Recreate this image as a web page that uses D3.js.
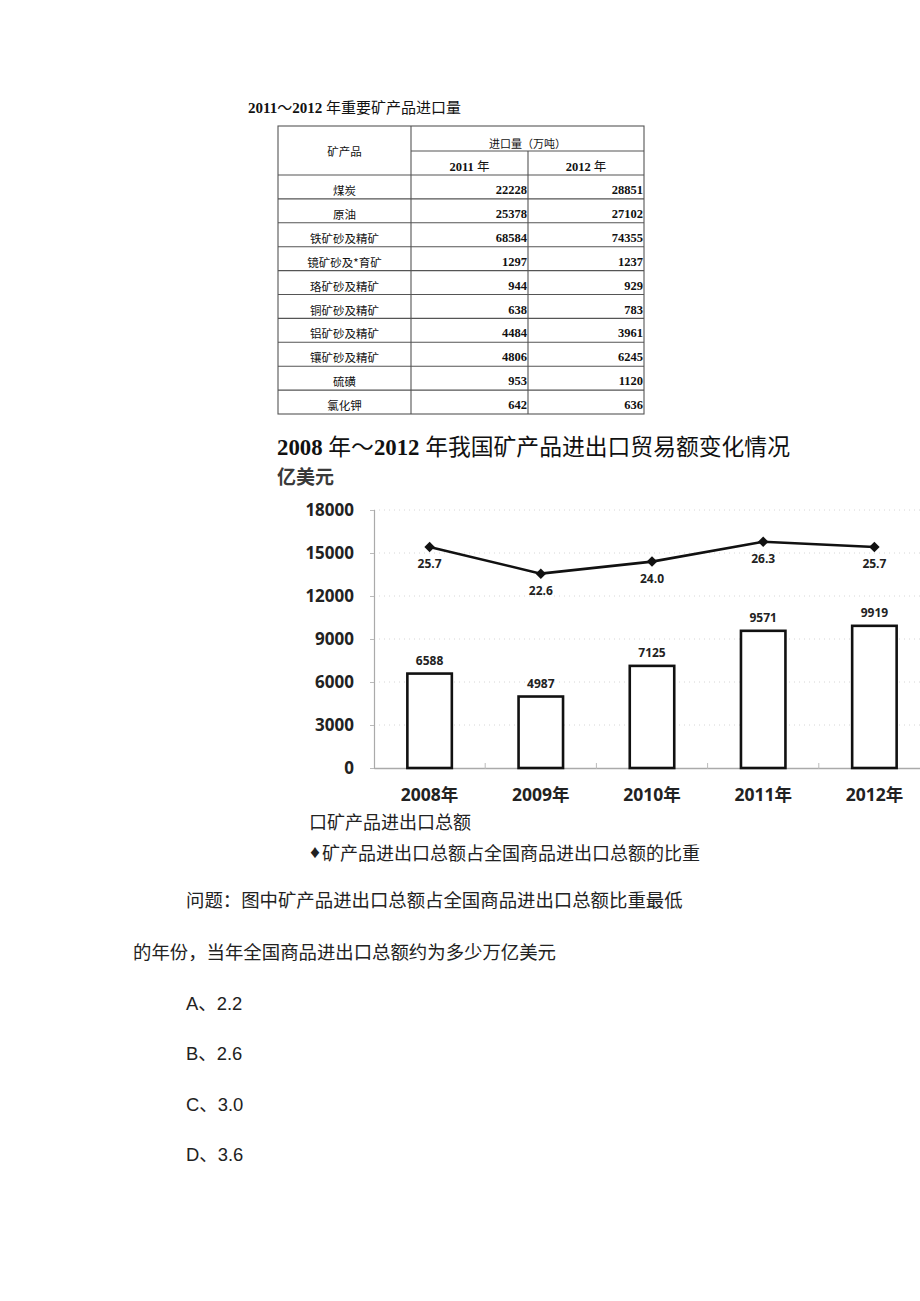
<!DOCTYPE html>
<html><head><meta charset="utf-8">
<script src="https://cdn.jsdelivr.net/npm/d3@7"></script>
<style>
html,body{margin:0;padding:0;background:#fff;}
svg{display:block;}
</style></head>
<body>
<script>
// ---------- data ----------
const tableTitle = "2011～2012 年重要矿产品进口量";
const minerals = ["煤炭","原油","铁矿砂及精矿","镜矿砂及*育矿","珞矿砂及精矿","铜矿砂及精矿","铝矿砂及精矿","镶矿砂及精矿","硫磺","氯化钾"];
const imports2011 = [22228,25378,68584,1297,944,638,4484,4806,953,642];
const imports2012 = [28851,27102,74355,1237,929,783,3961,6245,1120,636];
const years = ["2008年","2009年","2010年","2011年","2012年"];
const tradeTotal = [6588,4987,7125,9571,9919];
const tradeShare = [25.7,22.6,24.0,26.3,25.7];
const yTicks = [0,3000,6000,9000,12000,15000,18000];
const legendBar = "口矿产品进出口总额";
const legendLineMark = "♦";
const legendLine = "矿产品进出口总额占全国商品进出口总额的比重";
const questionLines = ["问题：图中矿产品进出口总额占全国商品进出口总额比重最低","的年份，当年全国商品进出口总额约为多少万亿美元"];
const options = ["A、2.2","B、2.6","C、3.0","D、3.6"];

const W = 920, H = 1301;
const svg = d3.select("body").append("svg").attr("width", W).attr("height", H);
const CJK = "'Noto Sans CJK SC'";
const SERIF = "'Liberation Serif', " + CJK;
const SANS = "'Open Sans', " + CJK;

// ---------- table ----------
const tx = [278, 411, 528, 644];
const headTop = 126, headMid = 151, headBot = 175;
const rowY = d3.scaleLinear().domain([0, minerals.length]).range([headBot, 414]);

svg.append("text").attr("x", 248).attr("y", 113)
  .attr("font-family", SERIF).attr("font-size", 15).attr("fill", "#111")
  .selectAll("tspan").data([["2011",700],["～",400],["2012",700],[" 年重要矿产品进口量",400]])
  .join("tspan").text(d => d[0]).attr("font-weight", d => d[1]);

const tg = svg.append("g").attr("stroke", "#555").attr("stroke-width", 1.1).attr("fill", "none");
tg.append("rect").attr("x", tx[0]).attr("y", headTop).attr("width", tx[3]-tx[0]).attr("height", 414-headTop);
tg.append("line").attr("x1", tx[1]).attr("x2", tx[1]).attr("y1", headTop).attr("y2", 414);
tg.append("line").attr("x1", tx[2]).attr("x2", tx[2]).attr("y1", headMid).attr("y2", 414);
tg.append("line").attr("x1", tx[1]).attr("x2", tx[3]).attr("y1", headMid).attr("y2", headMid);
tg.selectAll("line.r").data(d3.range(0, minerals.length)).join("line")
  .attr("x1", tx[0]).attr("x2", tx[3]).attr("y1", d => rowY(d)).attr("y2", d => rowY(d));

const tt = svg.append("g").attr("font-size", 11.5).attr("fill", "#111");
tt.append("text").attr("x", (tx[0]+tx[1])/2).attr("y", 151).attr("text-anchor","middle")
  .attr("dominant-baseline","central").attr("font-family", CJK).text("矿产品");
tt.append("text").attr("x", (tx[1]+tx[3])/2).attr("y", 143).attr("text-anchor","middle")
  .attr("dominant-baseline","central").attr("font-family", CJK).attr("font-size", 11).text("进口量（万吨）");
[["2011",(tx[1]+tx[2])/2],["2012",(tx[2]+tx[3])/2]].forEach(([y,x]) => {
  const t = tt.append("text").attr("x", x).attr("y", 167).attr("text-anchor","middle")
    .attr("dominant-baseline","central").attr("font-family", SERIF).attr("font-size", 12.5);
  t.append("tspan").attr("font-weight",700).text(y);
  t.append("tspan").text(" 年");
});
tt.selectAll("text.m").data(minerals).join("text")
  .attr("x", (tx[0]+tx[1])/2).attr("y", (d,i) => rowY(i)+15)
  .attr("text-anchor","middle").attr("dominant-baseline","central").attr("font-family", CJK).text(d => d);
tt.selectAll("text.a").data(imports2011).join("text")
  .attr("x", tx[2]-1).attr("y", (d,i) => rowY(i)+15)
  .attr("text-anchor","end").attr("dominant-baseline","central").attr("font-family", SERIF)
  .attr("font-weight",700).attr("font-size",12.5).text(d => d);
tt.selectAll("text.b").data(imports2012).join("text")
  .attr("x", tx[3]-1).attr("y", (d,i) => rowY(i)+15)
  .attr("text-anchor","end").attr("dominant-baseline","central").attr("font-family", SERIF)
  .attr("font-weight",700).attr("font-size",12.5).text(d => d);

// ---------- chart ----------
const ct = svg.append("text").attr("x", 277).attr("y", 455).attr("font-size", 22.8)
  .attr("font-family", SERIF).attr("fill", "#111");
ct.selectAll("tspan").data([["2008",700],[" 年～",400],["2012",700],[" 年我国矿产品进出口贸易额变化情况",400]])
  .join("tspan").text(d => d[0]).attr("font-weight", d => d[1]);

svg.append("text").attr("x", 277).attr("y", 484).attr("font-size", 19).attr("font-weight", 700)
  .attr("font-family", SANS).attr("fill", "#3a3a3a").text("亿美元");

const x = d3.scaleBand().domain(years).range([374, 930]).paddingInner(0.6).paddingOuter(0.3);
const y = d3.scaleLinear().domain([0, 18000]).range([768, 510]);
const y2 = d3.scaleLinear().domain([0, 30]).range([768, 510]);

// gridlines
svg.append("g").selectAll("line").data(yTicks.slice(1)).join("line")
  .attr("x1", 374).attr("x2", 920).attr("y1", d => y(d)).attr("y2", d => y(d))
  .attr("stroke", "#ccc").attr("stroke-width", 0.8).attr("stroke-dasharray", "1,4");

// y axis
const yAxis = svg.append("g").attr("transform", "translate(374,0)")
  .call(d3.axisLeft(y).tickValues(yTicks).tickSize(4).tickPadding(16).tickFormat(d3.format("d")));
yAxis.select(".domain").attr("stroke", "#aaa").attr("stroke-width", 1.2);
yAxis.selectAll(".tick line").attr("stroke", "#bbb");
yAxis.selectAll("text").attr("font-family", SANS).attr("font-size", 17).attr("font-weight", 700).attr("fill", "#222");

// x axis
const xAxis = svg.append("g").attr("transform", "translate(0,768)")
  .call(d3.axisBottom(x).tickSize(0).tickPadding(21));
xAxis.select(".domain").attr("stroke", "#aaa").attr("stroke-width", 1.4);
xAxis.selectAll("text").attr("font-family", SANS).attr("font-size", 17.5).attr("font-weight", 700).attr("fill", "#222");
const step = x.step();
svg.append("g").selectAll("line").data(years.slice(1)).join("line")
  .attr("x1", d => x(d) - (step - x.bandwidth())/2).attr("x2", d => x(d) - (step - x.bandwidth())/2)
  .attr("y1", 763).attr("y2", 769).attr("stroke", "#bbb");

// bars
svg.append("g").selectAll("rect").data(tradeTotal).join("rect")
  .attr("x", (d,i) => x(years[i])).attr("width", x.bandwidth())
  .attr("y", d => y(d)).attr("height", d => y(0) - y(d))
  .attr("fill", "#fff").attr("stroke", "#111").attr("stroke-width", 2.6);
svg.append("g").selectAll("text").data(tradeTotal).join("text")
  .attr("x", (d,i) => x(years[i]) + x.bandwidth()/2).attr("y", d => y(d) - 9)
  .attr("text-anchor", "middle").attr("font-family", SANS).attr("font-size", 12).attr("font-weight", 700)
  .attr("fill", "#222").text(d => d);

// line
const cx = i => x(years[i]) + x.bandwidth()/2;
svg.append("path").datum(tradeShare)
  .attr("d", d3.line().x((d,i) => cx(i)).y(d => y2(d)))
  .attr("fill", "none").attr("stroke", "#111").attr("stroke-width", 2.6);
svg.append("g").selectAll("path").data(tradeShare).join("path")
  .attr("transform", (d,i) => `translate(${cx(i)},${y2(d)})`)
  .attr("d", d3.symbol(d3.symbolDiamond2, 70)).attr("fill", "#111");
svg.append("g").selectAll("text").data(tradeShare).join("text")
  .attr("x", (d,i) => cx(i)).attr("y", d => y2(d) + 21)
  .attr("text-anchor", "middle").attr("font-family", SANS).attr("font-size", 12).attr("font-weight", 700)
  .attr("fill", "#222").text(d => d.toFixed(1));

// legend
svg.append("text").attr("x", 309).attr("y", 829).attr("font-family", CJK).attr("font-size", 18)
  .attr("fill", "#222").text(legendBar);
const lg = svg.append("text").attr("x", 309).attr("y", 860).attr("font-family", CJK).attr("font-size", 18)
  .attr("fill", "#222");
lg.append("tspan").attr("font-size", 12).attr("dy", -2).text(legendLineMark);
lg.append("tspan").attr("dy", 2).attr("dx", 1).text(legendLine);

// question
svg.append("g").selectAll("text").data(questionLines).join("text")
  .attr("x", (d,i) => i === 0 ? 186 : 133).attr("y", (d,i) => 907 + i*52)
  .attr("font-family", CJK).attr("font-size", 18.4).attr("fill", "#222").text(d => d);
svg.append("g").selectAll("text").data(options).join("text")
  .attr("x", 186).attr("y", (d,i) => 1010 + i*50.3)
  .attr("font-family", "'Liberation Sans', " + CJK).attr("font-size", 18.4).attr("fill", "#222").text(d => d);
</script>
</body></html>
